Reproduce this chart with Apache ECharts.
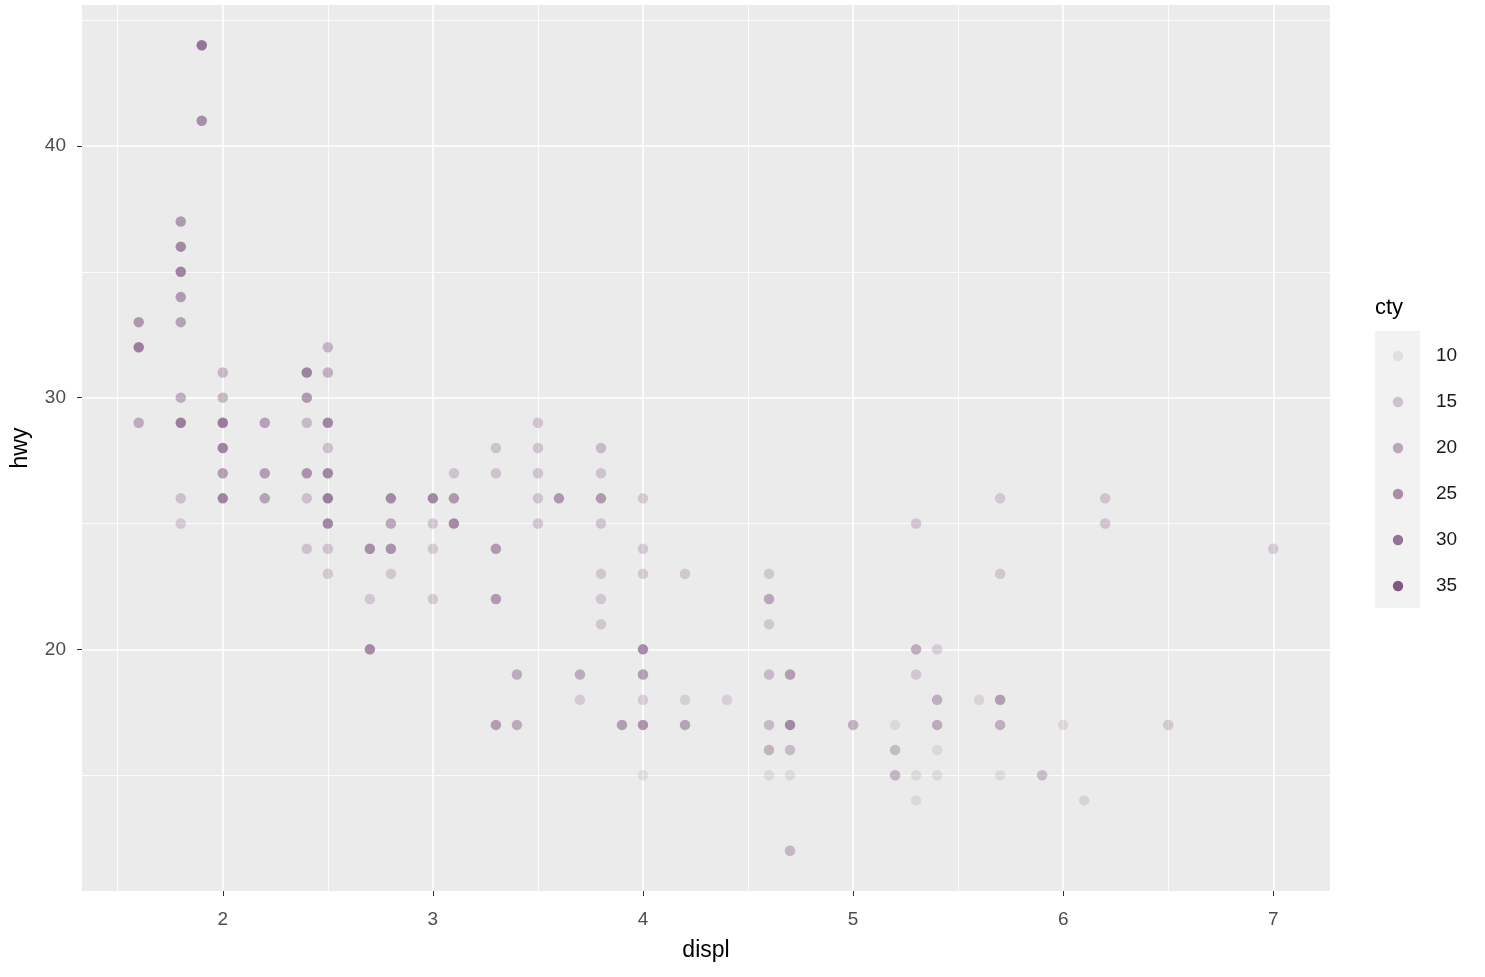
<!DOCTYPE html>
<html>
<head>
<meta charset="utf-8">
<script src="https://cdn.jsdelivr.net/npm/echarts@6/dist/echarts.min.js"></script>
<style>
html,body{margin:0;padding:0;background:#fff;}
#chart{width:1485px;height:977px;}
</style>
</head>
<body>
<div id="chart"></div>
<script>
// Unique visible positions (displ, hwy) with an effective cty value (darkness)
const displ = [
  1.6,1.6,1.6,
  1.8,1.8,1.8,1.8,1.8,1.8,1.8,1.8,1.8,
  1.9,1.9,
  2.0,2.0,2.0,2.0,2.0,2.0,
  2.2,2.2,2.2,
  2.4,2.4,2.4,2.4,2.4,2.4,
  2.5,2.5,2.5,2.5,2.5,2.5,2.5,2.5,2.5,
  2.7,2.7,2.7,
  2.8,2.8,2.8,2.8,
  3.0,3.0,3.0,3.0,
  3.1,3.1,3.1,
  3.3,3.3,3.3,3.3,3.3,
  3.4,3.4,
  3.5,3.5,3.5,3.5,3.5,
  3.6,
  3.7,3.7,
  3.8,3.8,3.8,3.8,3.8,3.8,3.8,
  3.9,
  4.0,4.0,4.0,4.0,4.0,4.0,4.0,4.0,
  4.2,4.2,4.2,
  4.4,
  4.6,4.6,4.6,4.6,4.6,4.6,4.6,
  4.7,4.7,4.7,4.7,4.7,
  5.0,
  5.2,5.2,5.2,
  5.3,5.3,5.3,5.3,5.3,
  5.4,5.4,5.4,5.4,5.4,
  5.6,
  5.7,5.7,5.7,5.7,5.7,
  5.9,
  6.0,
  6.1,
  6.2,6.2,
  6.5,
  7.0
];
const hwy = [
  33,32,29,
  37,36,35,34,33,30,29,26,25,
  44,41,
  31,30,29,28,27,26,
  29,27,26,
  31,30,29,27,26,24,
  32,31,29,28,27,26,25,24,23,
  24,22,20,
  26,25,24,23,
  26,25,24,22,
  27,26,25,
  28,27,24,22,17,
  19,17,
  29,28,27,26,25,
  26,
  19,18,
  28,27,26,25,23,22,21,
  17,
  26,24,23,20,19,18,17,15,
  23,18,17,
  18,
  23,22,21,19,17,16,15,
  19,17,16,15,12,
  17,
  17,16,15,
  25,20,19,15,14,
  20,18,17,16,15,
  18,
  26,23,18,17,15,
  15,
  17,
  14,
  26,25,
  17,
  24
];
const cty = [
  27,33,22,
  26,30,32,26,24,22,33,17,15,
  35,29,
  19,20,34,32,25,32,
  24,25,24,
  32,27,18,28,17,16,
  20,21,31,17,31,33,31,16,15,
  29,15,30,
  30,23,28,15,
  31,16,15,15,
  16,27,30,
  16,16,26,26,25,
  22,22,
  16,16,16,16,16,
  27,
  22,14,
  18,16,26,16,15,15,15,
  25,
  15,15,15,30,25,14,28,11,
  15,13,24,
  13,
  15,23,15,18,18,20,11,
  25,30,18,11,19,
  21,
  11,18,20,
  16,22,15,11,11,
  14,21,22,11,11,
  12,
  15,15,25,21,11,
  18,
  12,
  12,
  16,16,
  15,
  15
];
const xTicks = [2,3,4,5,6,7];
const yTicks = [20,30,40];
const xMinor = [1.5,2.5,3.5,4.5,5.5,6.5];
const yMinor = [15,25,35,45];
const legendValues = [10,15,20,25,30,35];

const baseRGB = [128,88,130];
const ctyMin = 9, ctyMax = 35;
function alphaOf(c){ return 0.1 + 0.9*(c-ctyMin)/(ctyMax-ctyMin); }
function colorOf(c){ return 'rgba('+baseRGB.join(',')+','+alphaOf(c).toFixed(3)+')'; }

const points = displ.map((d,i)=>({value:[d,hwy[i],cty[i]], itemStyle:{color:colorOf(cty[i])}}));

const gridLines = [];
xTicks.forEach(v=>gridLines.push({xAxis:v, lineStyle:{color:'#fff',width:1.6,type:'solid'}}));
xMinor.forEach(v=>gridLines.push({xAxis:v, lineStyle:{color:'#fff',width:0.8,type:'solid'}}));
yTicks.forEach(v=>gridLines.push({yAxis:v, lineStyle:{color:'#fff',width:1.6,type:'solid'}}));
yMinor.forEach(v=>gridLines.push({yAxis:v, lineStyle:{color:'#fff',width:0.8,type:'solid'}}));

const FONT = '"Liberation Sans", Arial, sans-serif';
const graphics = [
  {type:'text', left:1375, top:297, style:{text:'cty', fontSize:22, fontFamily:FONT, fill:'#000'}},
  {type:'rect', shape:{x:1375,y:331,width:45,height:277}, style:{fill:'#F2F2F2'}}
];
legendValues.forEach((v,i)=>{
  const cy = 356 + i*46;
  graphics.push({type:'circle', shape:{cx:1398, cy:cy, r:5.2}, style:{fill:colorOf(v)}});
  graphics.push({type:'text', x:1436, y:cy, style:{text:String(v), fontSize:19, fontFamily:FONT, fill:'#1a1a1a', verticalAlign:'middle', textAlign:'left'}});
});

const chart = echarts.init(document.getElementById('chart'), null, {renderer:'canvas'});
chart.setOption({
  animation:false,
  backgroundColor:'#ffffff',
  grid:{left:82, right:155, top:5, bottom:86, show:true, backgroundColor:'#EBEBEB', borderWidth:0,
        containLabel:false, outerBoundsMode:'none'},
  xAxis:{
    type:'value', min:1.33, max:7.27,
    splitLine:{show:false}, axisLine:{show:false},
    axisTick:{show:true, customValues:xTicks, length:5, lineStyle:{color:'#333333', width:1}},
    axisLabel:{customValues:xTicks, color:'#4D4D4D', fontSize:19, fontFamily:FONT, margin:19},
    name:'displ', nameLocation:'middle', nameGap:48,
    nameTextStyle:{fontSize:23, color:'#000', fontFamily:FONT}
  },
  yAxis:{
    type:'value', min:10.4, max:45.6,
    splitLine:{show:false}, axisLine:{show:false},
    axisTick:{show:true, customValues:yTicks, length:5, lineStyle:{color:'#333333', width:1}},
    axisLabel:{customValues:yTicks, color:'#4D4D4D', fontSize:19, fontFamily:FONT, margin:16},
    name:'hwy', nameLocation:'middle', nameGap:50, nameRotate:90,
    nameTextStyle:{fontSize:23, color:'#000', fontFamily:FONT}
  },
  series:[
    {type:'scatter', data:[], z:1, silent:true,
     markLine:{silent:true, symbol:['none','none'], label:{show:false}, data:gridLines, animation:false}},
    {type:'scatter', data:points, symbol:'circle', symbolSize:10.5, z:5}
  ],
  graphic:graphics
});
</script>
</body>
</html>
